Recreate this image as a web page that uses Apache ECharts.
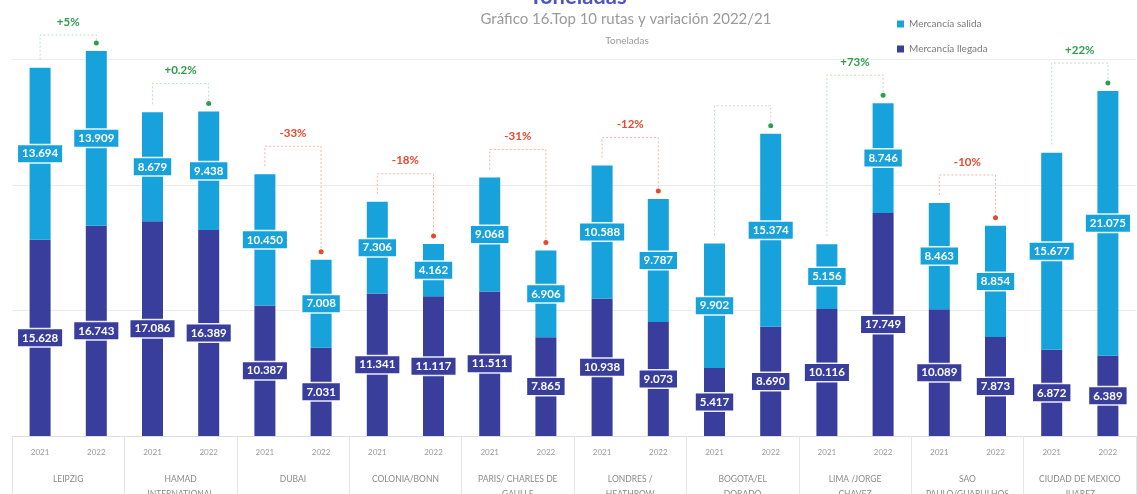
<!DOCTYPE html>
<html>
<head>
<meta charset="utf-8">
<script src="https://cdn.jsdelivr.net/npm/echarts@6/dist/echarts.min.js"></script>
<style>
  html, body { margin: 0; padding: 0; background: #ffffff; }
  #chart { width: 1137px; height: 494px; }
</style>
</head>
<body>
<div id="chart"></div>
<script>
// Top 10 routes, tonnes per year (2021 / 2022 pairs)
const routes = ['LEIPZIG', 'HAMAD\nINTERNATIONAL', 'DUBAI', 'COLONIA/BONN', 'PARIS/ CHARLES DE\nGAULLE',
  'LONDRES /\nHEATHROW', 'BOGOTA/EL\nDORADO', 'LIMA /JORGE\nCHAVEZ', 'SAO\nPAULO/GUARULHOS', 'CIUDAD DE MEXICO\nJUAREZ'];
const years = ['2021', '2022'];
const llegada = [15628, 16743, 17086, 16389, 10387, 7031, 11341, 11117, 11511, 7865,
  10938, 9073, 5417, 8690, 10116, 17749, 10089, 7873, 6872, 6389];
const salida = [13694, 13909, 8679, 9438, 10450, 7008, 7306, 4162, 9068, 6906,
  10588, 9787, 9902, 15374, 5156, 8746, 8463, 8854, 15677, 21075];
const variation = ['+5%', '+0.2%', '-33%', '-18%', '-31%', '-12%', '', '+73%', '-10%', '+22%'];
const yMax = 32000;
const yStep = 10000;

const COL_LLEGADA = '#393d9b';
const COL_SALIDA = '#17a2db';
const FONT = 'Lato, "Open Sans", sans-serif';

const yearCats = [];
routes.forEach(() => years.forEach(y => yearCats.push(y)));
const totals = llegada.map((v, i) => v + salida[i]);

const fmt = v => String(v).replace(/\B(?=(\d{3})+(?!\d))/g, '.');

function boxLabel(color) {
  return {
    show: true,
    position: 'inside',
    formatter: p => fmt(p.value),
    color: '#ffffff',
    fontFamily: FONT,
    fontWeight: 'bold',
    fontSize: 11.5,
    backgroundColor: color,
    borderColor: 'rgba(255,255,255,0.9)',
    borderWidth: 1.5,
    padding: [3, 4, 2, 4]
  };
}

const chart = echarts.init(document.getElementById('chart'), null, { renderer: 'canvas' });

chart.setOption({
  animation: false,
  textStyle: { fontFamily: FONT },
  graphic: [
    { type: 'text', x: 578, y: -3, style: { text: 'Toneladas', fill: '#4b55c9', font: 'bold 22px ' + FONT, align: 'center', verticalAlign: 'middle' } },
    { type: 'text', x: 626, y: 19, style: { text: 'Gráfico 16.Top 10 rutas y variación 2022/21', fill: '#9a9a9a', font: '15px ' + FONT, align: 'center', verticalAlign: 'middle' } },
    { type: 'text', x: 627, y: 41, style: { text: 'Toneladas', fill: '#9a9a9a', font: '10px ' + FONT, align: 'center', verticalAlign: 'middle' } }
  ],
  legend: {
    data: ['Mercancía salida', 'Mercancía llegada'],
    orient: 'vertical',
    left: 892,
    top: 14,
    itemGap: 15,
    itemWidth: 7,
    itemHeight: 7,
    icon: 'rect',
    textStyle: { color: '#7a7a7a', fontSize: 10, fontFamily: FONT }
  },
  grid: { left: 12, right: 1, top: 34, bottom: 58, outerBoundsMode: 'none', containLabel: false },
  xAxis: [
    {
      type: 'category',
      data: yearCats,
      position: 'bottom',
      axisLine: { show: true, lineStyle: { color: '#dddddd' } },
      axisTick: { show: false },
      axisLabel: { interval: 0, color: '#9a9a9a', fontSize: 8, margin: 12 }
    },
    {
      type: 'category',
      data: routes,
      position: 'bottom',
      axisLine: { show: false },
      axisTick: { show: true, length: 58, interval: 0, lineStyle: { color: '#e4e4e4' } },
      axisLabel: { interval: 0, color: '#8a8a8a', fontSize: 8.5, margin: 36, lineHeight: 15 }
    }
  ],
  yAxis: {
    type: 'value',
    min: 0,
    max: yMax,
    interval: yStep,
    axisLine: { show: false },
    axisTick: { show: false },
    axisLabel: { show: false },
    splitLine: { show: true, showMinLine: false, showMaxLine: false, lineStyle: { color: '#ececec' } }
  },
  series: [
    {
      name: 'Mercancía llegada',
      type: 'bar',
      stack: 'total',
      xAxisIndex: 0,
      barWidth: 21,
      itemStyle: { color: COL_LLEGADA },
      label: boxLabel(COL_LLEGADA),
      data: llegada
    },
    {
      name: 'Mercancía salida',
      type: 'bar',
      stack: 'total',
      xAxisIndex: 0,
      barWidth: 21,
      itemStyle: { color: COL_SALIDA },
      label: boxLabel(COL_SALIDA),
      data: salida
    },
    {
      // variation 2022/21 brackets over each route pair
      name: 'variacion',
      type: 'custom',
      xAxisIndex: 0,
      clip: false,
      z: 10,
      silent: true,
      data: routes.map((r, g) => [2 * g + 1, totals[2 * g + 1]]),
      renderItem: (params, api) => {
        const g = params.dataIndex;
        const i1 = 2 * g, i2 = 2 * g + 1;
        const p1 = api.coord([i1, totals[i1]]);
        const p2 = api.coord([i2, totals[i2]]);
        const up = totals[i2] >= totals[i1];
        const lineColor = up ? '#bddfc4' : '#f3b4a6';
        const textColor = up ? '#2f9d4c' : '#e5492e';
        const by = Math.max(Math.min(p1[1], p2[1]) - 28, 35);
        const dotY = p2[1] - 8;
        return {
          type: 'group',
          children: [
            {
              type: 'polyline',
              shape: { points: [[p1[0], p1[1] - 8], [p1[0], by], [p2[0], by], [p2[0], dotY]] },
              style: { stroke: lineColor, lineWidth: 1, lineDash: [2, 2], fill: null }
            },
            { type: 'circle', shape: { cx: p2[0], cy: dotY, r: 2.5 }, style: { fill: textColor } },
            {
              type: 'text',
              x: (p1[0] + p2[0]) / 2,
              y: by - 13,
              style: { text: variation[g], fill: textColor, font: 'bold 11.5px ' + FONT, align: 'center', verticalAlign: 'middle' }
            }
          ]
        };
      }
    }
  ]
});
</script>
</body>
</html>
